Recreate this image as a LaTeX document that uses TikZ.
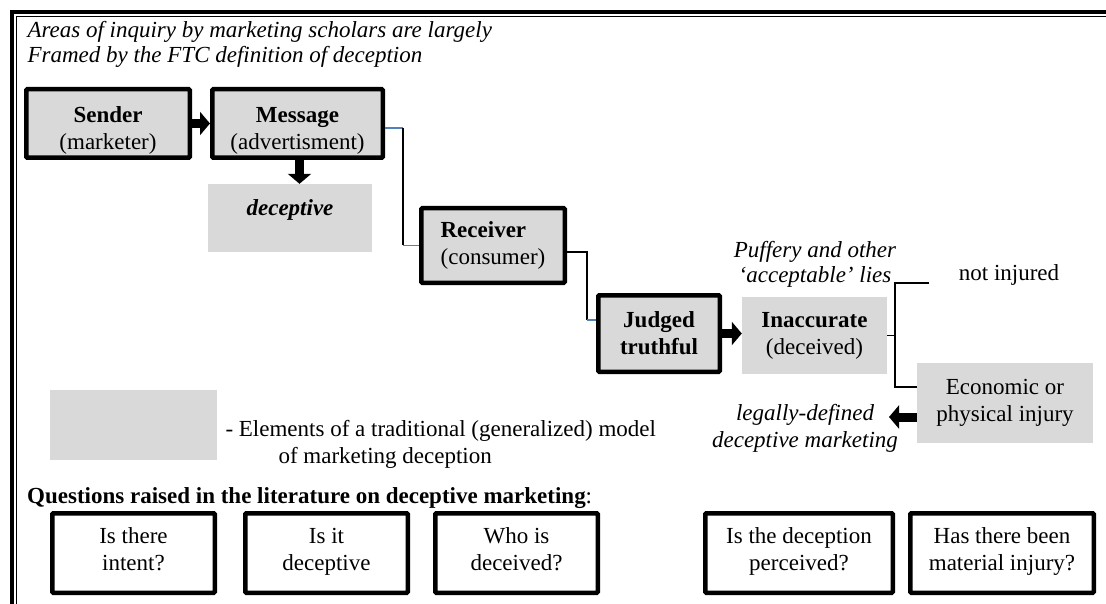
\documentclass[tikz,border=0pt]{standalone}
\usepackage{fontspec}
\setmainfont{Liberation Serif}
\usepackage{tikz}
\usetikzlibrary{arrows.meta}
\definecolor{boxgray}{HTML}{D9D9D9}
\definecolor{linkblue}{HTML}{4F81BD}
\tikzstyle{stage} = [rectangle, rounded corners=1pt, draw=black, line width=4.5pt, fill=boxgray, align=center]
\tikzstyle{greybox} = [rectangle, fill=boxgray, align=center]
\tikzstyle{question} = [rectangle, rounded corners=1pt, draw=black, line width=4.5pt, align=center, minimum height=79.5pt, execute at end node=\strut]
\tikzstyle{wire} = [line width=1.3pt]
\tikzstyle{bluewire} = [line width=1.3pt, draw=linkblue]
\tikzstyle{blockarrow} = [line width=9pt, -{Triangle[length=10pt,width=23pt]}]

\begin{document}
\begin{tikzpicture}[x=1pt, y=-1pt, font=\fontsize{23}{27}\selectfont]
\useasboundingbox (0,0) rectangle (1106,604);

% thick-thin frame
\draw[line width=4pt] (12,604) -- (12,12) -- (1106,12);
\draw[line width=1.2pt] (16.3,604) -- (16.3,16.3) -- (1106,16.3);

\node(title)[anchor=west, align=left, font=\fontsize{23}{25}\selectfont\itshape] at (24,44) {Areas of inquiry by marketing scholars are largely\\Framed by the FTC definition of deception};

% traditional model
\node(sender)[stage, minimum width=163.5pt, minimum height=68.5pt, label={[align=center, yshift=-7pt]center:{\textbf{Sender}\\(marketer)}}] at (108,123.5) {};
\node(message)[stage, minimum width=170.5pt, minimum height=68.5pt, label={[align=center, yshift=-7pt]center:{\textbf{Message}\\(advertisment)}}] at (297.5,123.5) {};
\node(deceptive)[greybox, minimum width=164pt, minimum height=68pt, label={[yshift=8.5pt]center:{\textbf{\textit{deceptive}}}}] at (290,218) {};
\node(receiver)[stage, minimum width=143.5pt, minimum height=74.5pt, align=left] at (493,245.5) {\textbf{Receiver}\\(consumer)};
\node(judged)[stage, minimum width=121.5pt, minimum height=76.5pt, font=\fontsize{23}{27}\selectfont\bfseries] at (659,333.5) {Judged\\truthful};
\node(inaccurate)[greybox, minimum width=145pt, minimum height=77pt] at (814.5,335.5) {\textbf{Inaccurate}\\(deceived)};
\node(economic)[greybox, minimum width=176pt, minimum height=80pt] at (1005,403) {Economic or\\physical injury};

\node(puffery)[align=center, font=\fontsize{23}{25}\selectfont\itshape] at (815,264.5) {Puffery and other\\‘acceptable’ lies};
\node(notinjured) at (1009,274.5) {not injured};
\node(legal)[align=center, font=\fontsize{23}{27}\selectfont\itshape] at (805,428) {legally-defined\\deceptive marketing};

% legend
\node(legend)[greybox, minimum width=167pt, minimum height=70pt] at (133.5,425) {};
\node(legendtext)[anchor=west, align=left] at (222,444) {- Elements of a traditional (generalized) model\\\hspace*{53pt}of marketing deception};

% questions
\node(questions)[anchor=base west, inner sep=0pt] at (27,503) {\textbf{Questions raised in the literature on deceptive marketing}:};
\node(intent)[question, minimum width=162.5pt] at (133.5,553) {Is there\\intent?};
\node(isdeceptive)[question, minimum width=162.5pt] at (326.5,553) {Is it\\deceptive};
\node(whodeceived)[question, minimum width=162.5pt] at (516.5,553) {Who is\\deceived?};
\node(perceived)[question, minimum width=187.5pt] at (799,553) {Is the deception\\perceived?};
\node(injury)[question, minimum width=183.5pt] at (1002,553) {Has there been\\material injury?};

% connectors
\draw [blockarrow] (sender) -- (message);
\draw [blockarrow] ([xshift=2pt]message.south) -- ([xshift=2pt]message.south |- deceptive.north);

\coordinate (bend1) at (403,128);
\draw [bluewire] ([yshift=-4.5pt]message.east) -- (bend1);
\draw [wire] (bend1) -- (bend1 |- receiver.west);
\draw [bluewire] (bend1 |- receiver.west) -- (receiver.west);

\coordinate (bend2) at (587,252);
\coordinate (judgedin) at ([yshift=13.5pt]judged.west);
\draw [wire] ([yshift=-6.5pt]receiver.east) -- (bend2) -- (bend2 |- judgedin);
\draw [bluewire] (bend2 |- judgedin) -- (judgedin);

\draw [blockarrow] (judged.east) -- (judged.east -| inaccurate.west);

\coordinate (brk) at (895,335);
\coordinate (notinjuredend) at (929,283);
\coordinate (econin) at ([yshift=16pt]economic.west);
\draw [wire] (inaccurate.east) -- (inaccurate.east -| brk);
\draw [wire] (notinjuredend) -- (notinjuredend -| brk) -- (brk |- econin) -- (econin);

\coordinate (econout) at ([yshift=-14pt]economic.west);
\coordinate (legaltip) at (889,417);
\draw [blockarrow] (econout) -- (legaltip);
\end{tikzpicture}
\end{document}
